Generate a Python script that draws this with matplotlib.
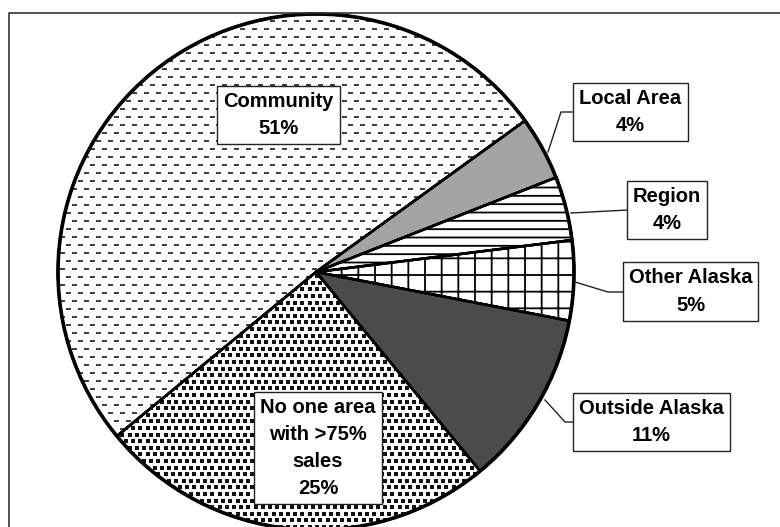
import numpy as np
import matplotlib
matplotlib.use("Agg")
import matplotlib.pyplot as plt
from matplotlib.collections import LineCollection
from matplotlib.patches import Wedge, Circle

# share of sales by main market area
categories = ["Community", "Local Area", "Region", "Other Alaska",
              "Outside Alaska", "No one area\nwith >75%\nsales"]
shares = [51, 4, 4, 5, 11, 25]

W, H = 780, 527
plt.rcParams["font.family"] = ["Liberation Sans", "DejaVu Sans"]
plt.rcParams["hatch.linewidth"] = 1.3
plt.rcParams["hatch.color"] = "#111111"


def fy(y):
    # page coordinates run top-down, the axes bottom-up
    return H - y


fig = plt.figure(figsize=(W / 100, H / 100), dpi=100)
ax = fig.add_axes([0, 0, 1, 1])

cx, cy, R = 316, fy(272), 258
wedges, _ = ax.pie(shares, startangle=-140.5, counterclock=False,
                   center=(cx, cy), radius=R,
                   wedgeprops=dict(edgecolor="black", linewidth=1.8))
ax.set_xlim(0, W)
ax.set_ylim(0, H)
ax.axis("off")

faces = ["white", "#a4a4a4", "white", "white", "#4b4b4b", "white"]
hatches = [None, None, "--", "+", None, None]
for w, fc, ht in zip(wedges, faces, hatches):
    w.set_facecolor(fc)
    if ht:
        w.set_hatch(ht)

# dashed fill for the community slice
segs = []
for i, y in enumerate(np.arange(2, H, 8)):
    off = 6 if i % 2 else 0
    for x in np.arange(-12 + off, W, 12):
        segs.append([(x, y), (x + 5, y)])
dashes = LineCollection(segs, colors="#1a1a1a", linewidths=1.2, zorder=1.5)
ax.add_collection(dashes)
dashes.set_clip_path(wedges[0])

# dotted fill for the "no one area" slice
pts = []
for i, y in enumerate(np.arange(0, H, 6.6)):
    off = 3.6 if i % 2 else 0
    for x in np.arange(off, W, 7.2):
        pts.append((x, y))
pts = np.array(pts)
dots = ax.scatter(pts[:, 0], pts[:, 1], s=5.0, marker="s", c="#111111",
                  linewidths=0, zorder=1.5)
dots.set_clip_path(wedges[5])

# slice borders and outer rim on top of the fills
for w in wedges:
    ax.add_patch(Wedge(w.center, w.r, w.theta1, w.theta2, fill=False,
                       edgecolor="black", linewidth=1.8, zorder=3))
ax.add_patch(Circle((cx, cy), R, fill=False, edgecolor="black",
                    linewidth=2.6, zorder=3))

# label boxes (centre x, centre y)
label_pos = [(278.5, 115), (630.5, 112), (667, 210), (690.5, 291.5),
             (651.5, 422), (318, 448)]
for name, val, (lx, ly) in zip(categories, shares, label_pos):
    ax.text(lx, fy(ly), f"{name}\n{val}%", ha="center", va="center",
            fontsize=14.5, fontweight="bold", linespacing=1.55, zorder=5,
            bbox=dict(boxstyle="square,pad=0.3", facecolor="white",
                      edgecolor="#222222", linewidth=1.0))

# leader lines for the narrow slices
leaders = [
    [(548, 152), (561, 112), (576, 112)],
    [(571, 213), (628, 210)],
    [(575, 282), (608, 292), (625, 292)],
    [(545, 400), (565, 422), (576, 422)],
]
for pts_ in leaders:
    xs = [p[0] for p in pts_]
    ys = [fy(p[1]) for p in pts_]
    ax.plot(xs, ys, color="#222222", linewidth=1.0, zorder=4)

# outer chart frame
ax.plot([8.5, 8.5, W], [0, fy(12.5), fy(12.5)], color="#333333",
        linewidth=1.2, zorder=4)

fig.savefig("out.png", dpi=100)
